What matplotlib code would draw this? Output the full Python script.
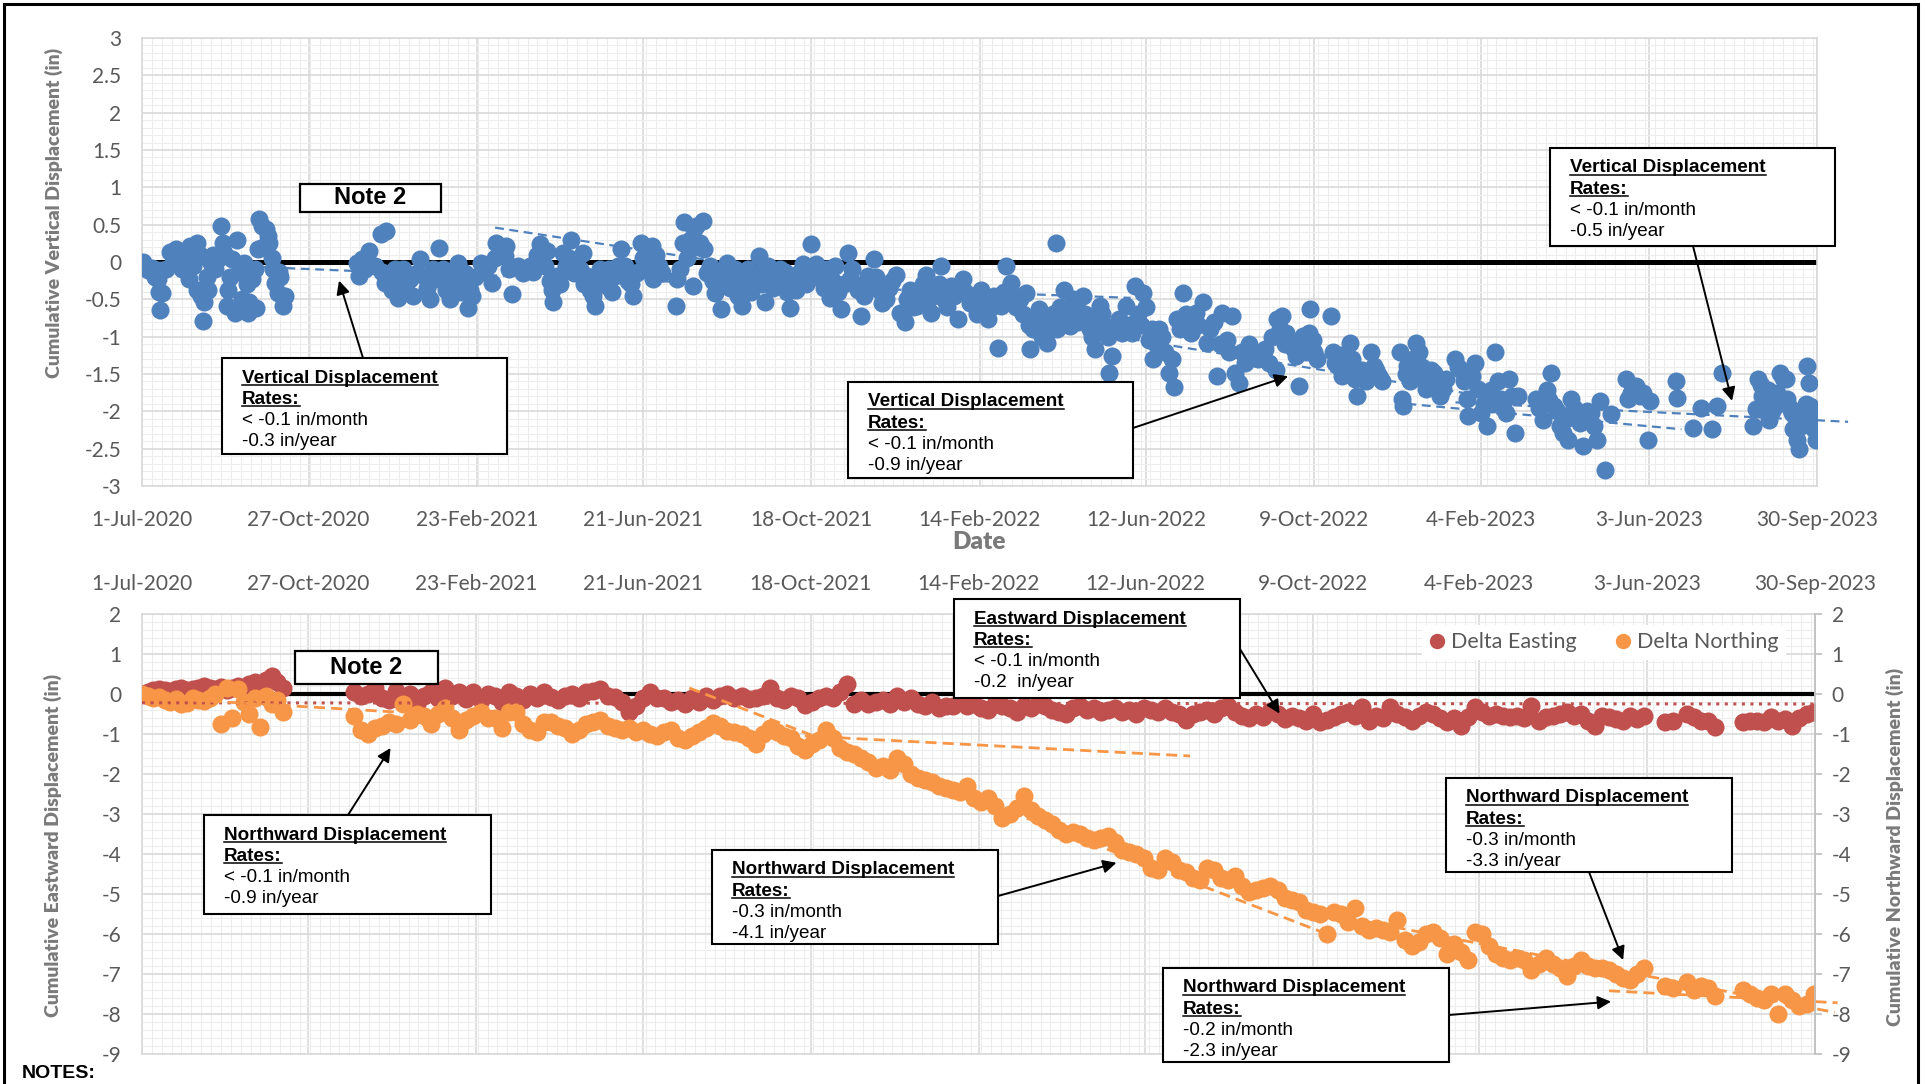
import matplotlib
matplotlib.use("Agg")
import matplotlib.pyplot as plt
from matplotlib.patches import Rectangle
from matplotlib.lines import Line2D
from matplotlib.ticker import FixedLocator, MultipleLocator, FuncFormatter

plt.rcParams['font.family'] = ['Lato', 'DejaVu Sans']
plt.rcParams['axes.unicode_minus'] = False

# ---------------- data (days since 1-Jul-2020) ----------------
tick_days = [0, 118, 237, 355, 474, 593, 711, 830, 948, 1067, 1186]
tick_labels = ['1-Jul-2020', '27-Oct-2020', '23-Feb-2021', '21-Jun-2021', '18-Oct-2021',
               '14-Feb-2022', '12-Jun-2022', '9-Oct-2022', '4-Feb-2023', '3-Jun-2023',
               '30-Sep-2023']

vert_days = [
    1, 4, 7, 9, 11, 12, 13, 14, 17, 20,
    22, 24, 26, 28, 30, 31, 33, 34, 36, 37,
    39, 39, 41, 42, 43, 44, 46, 47, 49, 50,
    52, 54, 56, 57, 58, 60, 61, 62, 64, 66,
    67, 69, 70, 71, 72, 74, 75, 76, 78, 80,
    81, 82, 83, 85, 86, 88, 89, 90, 92, 93,
    94, 96, 97, 98, 100, 101,
    152, 154, 156, 158, 161, 165, 169, 170, 172, 173,
    175, 177, 179, 181, 183, 185, 187, 190, 192, 195,
    197, 200, 202, 204, 206, 208, 210, 213, 215, 217,
    218, 220, 222, 224, 226, 227, 229, 231, 232, 234,
    236, 240, 242, 245, 248, 250, 251, 254, 257, 258,
    260, 262, 266, 270, 275, 277, 280, 282, 285, 287,
    289, 290, 291, 294, 296, 298, 300, 302, 304, 306,
    308, 310, 312, 313, 315, 317, 319, 321, 322, 324,
    326, 329, 331, 333, 335, 337, 339, 342, 344, 346,
    348, 351, 353, 355, 357, 359, 361, 362, 364, 366,
    368, 378, 379, 381, 383, 384, 386, 388, 390, 391,
    392, 394, 395, 397, 398, 400, 402, 404, 406, 408,
    410, 412, 414, 416, 418, 420, 422, 424, 425, 427,
    429, 431, 433, 435, 437, 439, 441, 443, 445, 447,
    450, 452, 455, 457, 459, 461, 463, 465, 468, 470,
    472, 474, 477, 479, 481, 483, 485, 487, 489, 491,
    493, 495, 497, 500, 501, 503, 505, 507, 509, 511,
    514, 516, 518, 520, 522, 524, 527, 529, 531, 534,
    537, 540, 542, 544, 546, 549, 551, 553, 555, 557,
    559, 562, 564, 566, 568, 570, 573, 575, 578, 581,
    583, 586, 589, 591, 594, 596, 599, 601, 603, 606,
    608, 610, 612, 615, 617, 619, 622, 624, 626, 628,
    629, 631, 633, 635, 637, 639, 641, 643, 645, 647,
    648, 650, 653, 655, 657, 659, 661, 663, 666, 668,
    671, 673, 675, 676, 678, 680, 682, 684, 685, 687,
    690, 692, 694, 697, 699, 701, 703, 705, 707, 709,
    711, 713, 715, 716, 718, 720, 722, 724, 727, 729,
    731, 733, 735, 737, 739, 741, 743, 746, 748, 751,
    754, 756, 759, 761, 763, 765, 768, 770, 772, 774,
    777, 779, 781, 784, 787, 790, 793, 795, 798, 800,
    803, 804, 806, 807, 809, 810, 812, 815, 817, 819,
    821, 822, 824, 826, 827, 829, 830, 832, 842, 843,
    845, 847, 849, 850, 853, 855, 857, 859, 860, 862,
    864, 867, 870, 872, 874, 876, 878, 891, 892, 893,
    895, 896, 898, 900, 902, 904, 906, 907, 909, 911,
    913, 915, 917, 919, 921, 923, 930, 932, 934, 936,
    938, 939, 942, 944, 946, 948, 950, 952, 955, 956,
    958, 960, 962, 964, 966, 968, 970, 972, 974, 987,
    989, 992, 995, 996, 998, 1000, 1002, 1004, 1006, 1008,
    1010, 1012, 1014, 1016, 1018, 1020, 1023, 1026, 1028, 1030,
    1032, 1036, 1040, 1051, 1052, 1054, 1058, 1061, 1063, 1066,
    1068, 1086, 1087, 1098, 1104, 1112, 1115, 1119, 1141, 1143,
    1144, 1146, 1147, 1149, 1151, 1152, 1154, 1156, 1158, 1160,
    1162, 1164, 1165, 1167, 1168, 1169, 1171, 1172, 1173, 1175,
    1176, 1178, 1179, 1180, 1181, 1183, 1184, 1185]
vert_vals = [
    0.0, -0.11, -0.08, -0.2, -0.23, -0.4, -0.64, -0.41, -0.1, 0.13,
    -0.01, 0.17, 0.05, -0.1, 0.04, 0.01, -0.23, 0.21, -0.05, 0.08,
    0.26, -0.37, 0.1, -0.46, -0.79, -0.54, -0.2, -0.37, -0.01, 0.1,
    -0.1, 0.04, 0.48, 0.26, 0.12, -0.59, -0.37, -0.2, 0.04, -0.68,
    0.3, -0.14, -0.6, -0.5, -0.01, -0.3, -0.68, -0.54, -0.23, -0.1,
    -0.62, 0.17, 0.57, 0.48, 0.2, 0.44, 0.35, 0.26, 0.05, -0.1,
    -0.28, -0.41, -0.14, -0.2, -0.59, -0.45,
    -0.01, -0.19, 0.04, -0.1, 0.15, -0.05, 0.37, -0.14, -0.28, 0.42,
    -0.2, -0.37, -0.1, -0.48, -0.25, -0.1, -0.3, -0.23, -0.46, -0.15,
    0.04, -0.19, -0.35, -0.5, -0.1, -0.23, 0.19, -0.1, -0.37, -0.2,
    -0.5, -0.3, -0.19, -0.01, -0.4, -0.28, -0.15, -0.61, -0.37, -0.45,
    -0.2, -0.01, -0.14, -0.05, -0.28, 0.05, 0.26, 0.12, 0.08, 0.21,
    -0.1, -0.43, -0.05, -0.15, -0.05, -0.14, 0.1, 0.24, -0.05, 0.15,
    -0.25, -0.37, -0.54, -0.19, -0.3, 0.12, -0.05, 0.05, 0.3, -0.15,
    0.04, -0.1, 0.12, -0.3, -0.19, -0.37, -0.45, -0.59, -0.2, -0.1,
    -0.25, -0.32, -0.1, -0.4, -0.19, -0.05, 0.17, -0.05, -0.25, -0.3,
    -0.46, -0.14, 0.26, 0.05, 0.04, -0.1, 0.21, -0.23, 0.1, -0.05,
    -0.15, -0.59, -0.23, -0.1, 0.26, 0.53, 0.05, 0.3, -0.32, 0.44,
    0.48, 0.2, 0.26, 0.55, 0.17, -0.15, -0.05, -0.25, -0.41, -0.3,
    -0.63, -0.1, -0.01, -0.35, -0.23, -0.1, -0.46, -0.3, -0.59, -0.2,
    -0.1, -0.4, -0.28, -0.15, 0.08, -0.3, -0.54, -0.05, -0.19, -0.35,
    -0.28, -0.1, -0.14, -0.4, -0.61, -0.25, -0.37, -0.15, -0.03, -0.3,
    -0.2, 0.24, -0.03, -0.15, -0.23, -0.35, -0.1, -0.48, -0.25, -0.05,
    -0.4, -0.63, -0.3, 0.12, -0.23, -0.1, -0.3, -0.37, -0.72, -0.45,
    -0.19, -0.3, 0.04, -0.2, -0.37, -0.55, -0.5, -0.35, -0.25, -0.17,
    -0.68, -0.81, -0.5, -0.37, -0.6, -0.59, -0.45, -0.3, -0.17, -0.5,
    -0.68, -0.4, -0.3, -0.05, -0.5, -0.6, -0.32, -0.45, -0.77, -0.23,
    -0.4, -0.55, -0.54, -0.7, -0.37, -0.55, -0.77, -0.6, -0.45, -1.15,
    -0.59, -0.4, -0.05, -0.28, -0.45, -0.6, -0.5, -0.7, -0.41, -0.85,
    -1.17, -0.9, -0.75, -0.63, -1.0, -0.77, -1.08, -0.9, -0.7, 0.26,
    -0.9, -0.6, -0.37, -0.75, -0.86, -0.5, -0.59, -0.8, -0.46, -0.7,
    -0.9, -1.0, -1.17, -0.8, -0.59, -0.7, -0.86, -1.0, -1.48, -1.26,
    -0.9, -0.77, -0.95, -0.59, -0.85, -0.95, -0.32, -0.7, -0.85, -0.41,
    -0.6, -1.04, -0.9, -1.3, -1.1, -0.9, -1.0, -1.2, -1.48, -1.3,
    -1.68, -0.77, -0.9, -0.41, -0.7, -0.81, -0.95, -0.68, -0.85, -0.54,
    -1.08, -0.9, -0.81, -1.53, -1.1, -0.68, -1.04, -1.2, -0.72, -1.48,
    -1.62, -1.21, -1.35, -1.1, -1.28, -1.3, -1.2, -1.17, -1.35, -1.0,
    -1.44, -0.77, -0.9, -0.72, -1.1, -0.95, -1.04, -1.15, -1.26, -1.66,
    -1.1, -0.99, -1.2, -0.95, -0.63, -1.05, -1.21, -1.3, -0.72, -1.21,
    -1.35, -1.39, -1.25, -1.53, -1.4, -1.08, -1.3, -1.57, -1.79, -1.45,
    -1.44, -1.6, -1.21, -1.39, -1.45, -1.53, -1.6, -1.21, -1.84, -1.93,
    -1.5, -1.39, -1.6, -1.3, -1.08, -1.21, -1.4, -1.53, -1.7, -1.66,
    -1.45, -1.48, -1.6, -1.79, -1.7, -1.57, -1.3, -1.4, -1.44, -1.6,
    -1.84, -2.06, -1.53, -1.35, -1.7, -2.02, -1.9, -2.2, -1.71, -1.9,
    -1.21, -1.6, -1.84, -1.95, -2.02, -1.57, -1.8, -2.29, -1.79, -1.84,
    -1.95, -2.11, -1.71, -1.85, -1.48, -1.93, -2.0, -2.2, -2.29, -2.1,
    -2.38, -1.84, -1.95, -2.02, -2.15, -2.46, -2.0, -2.02, -2.2, -2.38,
    -1.86, -2.78, -2.04, -1.57, -1.84, -1.75, -1.66, -1.8, -1.75, -2.38,
    -1.86, -1.59, -1.82, -2.22, -1.95, -2.24, -1.93, -1.48, -2.2, -1.97,
    -1.57, -1.65, -1.79, -1.9, -1.71, -2.11, -2.0, -1.93, -1.75, -1.48,
    -1.55, -1.57, -1.84, -1.95, -2.02, -2.24, -2.1, -2.38, -2.51, -2.2,
    -2.11, -1.9, -1.39, -1.62, -1.93, -2.05, -2.24, -2.38]

en_days = [
    0, 4, 8, 12, 16, 20, 24, 28, 32, 36, 40, 44, 48, 52, 56, 60, 64, 68, 72, 76,
    80, 84, 88, 92, 96, 100,
    150, 155, 160, 165, 170, 175, 180, 185, 190, 195,
    200, 205, 210, 215, 220, 225, 230, 235, 240, 245,
    250, 255, 260, 265, 270, 275, 280, 285, 290, 295,
    300, 305, 310, 315, 320, 325, 330, 335, 340, 345,
    350, 355, 360, 365, 370, 375, 380, 385, 390, 395,
    400, 405, 410, 415, 420, 425, 430, 435, 440, 445,
    450, 455, 460, 465, 470, 475, 480, 485, 490, 495,
    500, 505, 510, 515, 520, 525, 530, 535, 540, 545,
    550, 555, 560, 565, 570, 575, 580, 585, 590, 595,
    600, 605, 610, 615, 620, 625, 630, 635, 640, 645,
    650, 655, 660, 665, 670, 675, 680, 685, 690, 695,
    700, 705, 710, 715, 720, 725, 730, 735, 740, 745,
    750, 755, 760, 765, 770, 775, 780, 785, 790, 795,
    800, 805, 810, 815, 820, 825, 830, 835, 840, 845,
    850, 855, 860, 865, 870, 875, 880, 885, 890, 895,
    900, 905, 910, 915, 920, 925, 930, 935, 940, 945,
    950, 955, 960, 965, 970, 975, 980, 985, 990, 995,
    1000, 1005, 1010, 1015, 1020, 1025, 1030, 1035, 1040, 1045,
    1050, 1055, 1060, 1065,
    1080, 1085, 1095, 1100, 1105, 1110, 1115,
    1135, 1140, 1145, 1150, 1155, 1160, 1165, 1170, 1175, 1180, 1185]
east_vals = [
    0.0, 0.05, 0.1, 0.12, 0.1, 0.08, 0.12, 0.15, 0.1, 0.12, 0.15, 0.2, 0.15, 0.12,
    0.18, 0.1, 0.15, 0.2, 0.12, 0.25, 0.3, 0.2, 0.35, 0.45, 0.3, 0.15,
    0.05, -0.05, 0.0, 0.15, -0.1, -0.15, 0.08, -0.2, 0.0, -0.25,
    -0.05, 0.05, -0.1, 0.15, -0.05, 0.05, -0.12, 0.05, -0.15, 0.0,
    -0.05, -0.2, 0.05, -0.05, -0.15, 0.0, -0.1, 0.05, -0.08, -0.15,
    -0.05, 0.0, -0.1, 0.05, 0.08, 0.12, -0.05, -0.08, -0.2, -0.45,
    -0.3, -0.1, 0.05, -0.1, -0.1, -0.2, -0.15, -0.25, -0.1, -0.2,
    -0.05, -0.15, -0.05, 0.0, -0.1, -0.05, -0.12, -0.1, -0.05, 0.15,
    -0.1, -0.15, -0.05, -0.1, -0.28, -0.2, -0.1, -0.05, -0.1, 0.05,
    0.25, -0.25, -0.15, -0.25, -0.2, -0.15, -0.25, -0.05, -0.2, -0.1,
    -0.25, -0.3, -0.2, -0.35, -0.3, -0.3, -0.2, -0.3, -0.25, -0.35,
    -0.4, -0.25, -0.3, -0.35, -0.45, -0.3, -0.35, -0.25, -0.3, -0.4,
    -0.45, -0.5, -0.35, -0.3, -0.4, -0.35, -0.45, -0.4, -0.35, -0.45,
    -0.4, -0.5, -0.35, -0.4, -0.45, -0.35, -0.45, -0.5, -0.65, -0.5,
    -0.45, -0.4, -0.5, -0.35, -0.3, -0.45, -0.55, -0.6, -0.5, -0.58,
    -0.42, -0.5, -0.62, -0.54, -0.6, -0.67, -0.5, -0.7, -0.65, -0.58,
    -0.5, -0.46, -0.54, -0.33, -0.67, -0.54, -0.6, -0.33, -0.5, -0.58,
    -0.67, -0.54, -0.46, -0.5, -0.6, -0.71, -0.6, -0.79, -0.58, -0.33,
    -0.46, -0.54, -0.5, -0.55, -0.58, -0.54, -0.6, -0.3, -0.67, -0.58,
    -0.55, -0.5, -0.46, -0.54, -0.5, -0.67, -0.79, -0.54, -0.58, -0.62,
    -0.67, -0.54, -0.62, -0.54,
    -0.71, -0.68, -0.5, -0.58, -0.67, -0.67, -0.83,
    -0.71, -0.67, -0.67, -0.71, -0.58, -0.67, -0.62, -0.79, -0.6, -0.5, -0.46]
north_vals = [
    0.0, -0.05, -0.1, -0.08, -0.15, -0.2, -0.12, -0.25, -0.22, -0.1, -0.15, -0.18,
    -0.1, 0.0, -0.75, 0.15, -0.6, 0.12, -0.2, -0.5, -0.1, -0.82, -0.05, -0.25, -0.15, -0.45,
    -0.55, -0.9, -1.0, -0.85, -0.8, -0.7, -0.75, -0.25, -0.65, -0.5,
    -0.55, -0.75, -0.5, -0.35, -0.6, -0.9, -0.65, -0.55, -0.45, -0.6,
    -0.6, -0.85, -0.45, -0.45, -0.75, -0.9, -0.95, -0.7, -0.7, -0.8,
    -0.85, -1.0, -0.9, -0.75, -0.7, -0.65, -0.8, -0.85, -0.9, -0.85,
    -0.95, -0.9, -1.0, -1.05, -0.95, -0.9, -1.1, -1.15, -1.05, -0.95,
    -0.85, -0.72, -0.8, -0.92, -0.95, -1.0, -1.1, -1.25, -1.0, -0.85,
    -0.95, -1.05, -1.1, -1.3, -1.4, -1.25, -1.15, -0.9, -1.1, -1.35,
    -1.45, -1.5, -1.6, -1.7, -1.85, -1.8, -1.9, -1.6, -1.75, -2.0,
    -2.1, -2.15, -2.2, -2.3, -2.35, -2.4, -2.45, -2.3, -2.6, -2.7,
    -2.6, -2.8, -3.1, -3.0, -2.85, -2.55, -2.9, -3.05, -3.15, -3.25,
    -3.4, -3.5, -3.45, -3.5, -3.6, -3.65, -3.6, -3.55, -3.7, -3.9,
    -3.95, -4.0, -4.1, -4.35, -4.4, -4.1, -4.2, -4.4, -4.45, -4.6,
    -4.65, -4.35, -4.4, -4.6, -4.65, -4.55, -4.8, -4.95, -4.9, -4.85,
    -4.8, -4.9, -5.1, -5.15, -5.2, -5.4, -5.45, -5.5, -6.0, -5.45,
    -5.5, -5.7, -5.35, -5.8, -5.9, -5.85, -5.9, -5.95, -5.65, -6.15,
    -6.3, -6.2, -6.0, -5.95, -6.1, -6.5, -6.25, -6.45, -6.65, -5.95,
    -6.0, -6.3, -6.5, -6.6, -6.65, -6.6, -6.65, -6.9, -6.75, -6.6,
    -6.75, -6.85, -7.05, -6.8, -6.65, -6.8, -6.85, -6.85, -6.9, -7.0,
    -7.1, -7.15, -7.0, -6.85,
    -7.3, -7.35, -7.2, -7.4, -7.3, -7.35, -7.55,
    -7.4, -7.5, -7.6, -7.65, -7.5, -8.0, -7.5, -7.65, -7.8, -7.75, -7.5]

# trend lines: start day, start value, end day, end value
vert_trend_d0 = [0, 250, 235, 690, 896, 930]
vert_trend_v0 = [0.0, 0.46, -0.17, -1.0, -1.9, -1.88]
vert_trend_d1 = [150, 410, 700, 935, 1090, 1208]
vert_trend_v1 = [-0.12, 0.0, -0.48, -1.75, -2.24, -2.14]

north_trend_d0 = [0, 388, 470, 840, 1040]
north_trend_v0 = [-0.08, 0.15, -1.05, -5.5, -7.42]
north_trend_d1 = [180, 840, 743, 1200, 1202]
north_trend_v1 = [-0.45, -6.0, -1.55, -7.96, -7.72]

east_trend_d = [0, 1186]
east_trend_v = [-0.22, -0.25]

# ---------------- figure ----------------
W, H = 1925, 1084
BLUE, RED, ORANGE = '#4F81BD', '#C0504D', '#F79646'
TICK, TITLE = '#595959', '#7a7a7a'
MS = 13

fig = plt.figure(figsize=(W / 100, H / 100), dpi=100)


def fx(px):
    return px / W


def fy(py):
    return 1 - py / H


def setup(ax, ylo, yhi, ymaj, ymin):
    ax.set_xlim(0, 1186)
    ax.set_ylim(ylo, yhi)
    ax.xaxis.set_major_locator(FixedLocator(tick_days))
    ax.set_xticklabels(tick_labels)
    ax.xaxis.set_minor_locator(MultipleLocator(7))
    ax.yaxis.set_major_locator(MultipleLocator(ymaj))
    ax.yaxis.set_minor_locator(MultipleLocator(ymin))
    ax.yaxis.set_major_formatter(FuncFormatter(lambda v, p: '%g' % (round(v, 3) + 0.0)))
    ax.grid(which='major', color='#d9d9d9', lw=1.2)
    ax.grid(which='minor', color='#ededed', lw=0.8)
    ax.set_axisbelow(True)
    for s in ax.spines.values():
        s.set_color('#d9d9d9')
        s.set_linewidth(1.2)
    ax.tick_params(which='both', length=0, labelsize=15, labelcolor=TICK)


# top chart: vertical displacement
ax1 = fig.add_axes([fx(142), fy(486), fx(1817) - fx(142), fy(38) - fy(486)])
setup(ax1, -3, 3, 0.5, 0.1)
ax1.tick_params(axis='x', pad=17)
ax1.tick_params(axis='y', pad=15)
ax1.axhline(0, color='black', lw=3.6, zorder=2)
ax1.plot(vert_days, vert_vals, 'o', color=BLUE, ms=MS, mew=0, zorder=3)
for d0, v0, d1, v1 in zip(vert_trend_d0, vert_trend_v0, vert_trend_d1, vert_trend_v1):
    ax1.plot([d0, d1], [v0, v1], color=BLUE, lw=1.6, ls=(0, (4, 2.5)), zorder=4, clip_on=False)

# bottom chart: easting / northing
ax2 = fig.add_axes([fx(142), fy(1054), fx(1815) - fx(142), fy(614) - fy(1054)])
setup(ax2, -9, 2, 1, 0.2)
ax2.xaxis.set_ticks_position('top')
ax2.tick_params(axis='x', labeltop=True, labelbottom=False, pad=14.5)
ax2.tick_params(axis='y', pad=15)
ax2.axhline(0, color='black', lw=3.0, zorder=2)
ax2.plot(en_days, east_vals, 'o', color=RED, ms=MS, mew=0, zorder=3, label='Delta Easting')
ax2.plot(en_days, north_vals, 'o', color=ORANGE, ms=MS, mew=0, zorder=3, label='Delta Northing')
ax2.plot(east_trend_d, east_trend_v, color=RED, lw=2.2, ls=(0, (1, 1.8)), zorder=4)
for d0, v0, d1, v1 in zip(north_trend_d0, north_trend_v0, north_trend_d1, north_trend_v1):
    ax2.plot([d0, d1], [v0, v1], color=ORANGE, lw=2.0, ls=(0, (4, 2.2)), zorder=4, clip_on=False)

leg = ax2.legend(loc='upper right', bbox_to_anchor=(0.989, 1.0), ncol=2, frameon=True,
                 fancybox=False, edgecolor='none', facecolor='white', framealpha=1,
                 handlelength=0.7, handletextpad=0.3, columnspacing=1.8, markerscale=0.85,
                 prop={'family': 'Lato', 'size': 15.5}, labelcolor=TICK, borderpad=0.35)
leg.set_zorder(5)

axr = ax2.twinx()
axr.set_ylim(-9, 2)
axr.yaxis.set_major_locator(MultipleLocator(1))
axr.yaxis.set_major_formatter(FuncFormatter(lambda v, p: '%g' % (round(v, 3) + 0.0)))
axr.tick_params(axis='y', length=5, width=1.2, color='#bfbfbf', labelsize=15,
                labelcolor=TICK, pad=7)
for s in ['top', 'left', 'bottom']:
    axr.spines[s].set_visible(False)
axr.spines['right'].set_color('#bfbfbf')
axr.spines['right'].set_linewidth(1.2)

# axis titles
fig.text(fx(54), fy(213), 'Cumulative Vertical Displacement (in)', rotation=90,
         ha='center', va='center', fontsize=14, fontweight='heavy', color=TITLE)
fig.text(fx(979), fy(542), 'Date', ha='center', va='center', fontsize=17.5,
         fontweight='heavy', color=TITLE)
fig.text(fx(53), fy(845), 'Cumulative Eastward Displacement (in)', rotation=90,
         ha='center', va='center', fontsize=14, fontweight='heavy', color=TITLE)
fig.text(fx(1895), fy(847), 'Cumulative Northward Displacement (in)', rotation=90,
         ha='center', va='center', fontsize=14, fontweight='heavy', color=TITLE)

# ---------------- callouts ----------------
BOX_FONT = ['Liberation Sans', 'DejaVu Sans']
underlined = []


def callout(x0, y0, x1, y1, title, body):
    fig.add_artist(Rectangle((fx(x0), fy(y1)), fx(x1) - fx(x0), fy(y0) - fy(y1),
                             transform=fig.transFigure, facecolor='white',
                             edgecolor='black', lw=1.5, zorder=5))
    lines = [title, 'Rates:'] + body
    for i, s in enumerate(lines):
        base = y0 + 24.5 + 21.3 * i
        t = fig.text(fx(x0 + 20), fy(base), s, ha='left', va='baseline', fontsize=13.6,
                     family=BOX_FONT, fontweight='bold' if i < 2 else 'normal',
                     color='black', zorder=6)
        if i < 2:
            underlined.append((t, base))


def note_box(x0, y0, x1, y1):
    fig.add_artist(Rectangle((fx(x0), fy(y1)), fx(x1) - fx(x0), fy(y0) - fy(y1),
                             transform=fig.transFigure, facecolor='white',
                             edgecolor='black', lw=1.6, zorder=5))
    fig.text(fx((x0 + x1) / 2), fy((y0 + y1) / 2), 'Note 2', ha='center', va='center',
             fontsize=17, fontweight='bold', family=BOX_FONT, color='black', zorder=6)


def arrow(ax, start_px, tip):
    ax.annotate('', xy=tip, xycoords='data', xytext=(start_px[0], H - start_px[1]),
                textcoords='figure pixels', annotation_clip=False, zorder=6,
                arrowprops=dict(arrowstyle='-|>', color='black', lw=1.4,
                                mutation_scale=20, shrinkA=0, shrinkB=0))


note_box(300, 184, 441, 212)
note_box(295, 651, 438, 684)

callout(222, 358, 507, 454, 'Vertical Displacement', ['< -0.1 in/month', '-0.3 in/year'])
arrow(ax1, (363, 358), (139.5, -0.25))
callout(848, 382, 1133, 478, 'Vertical Displacement', ['< -0.1 in/month', '-0.9 in/year'])
arrow(ax1, (1133, 428), (811.5, -1.53))
callout(1550, 148, 1835, 246, 'Vertical Displacement', ['< -0.1 in/month', '-0.5 in/year'])
arrow(ax1, (1693, 246), (1125.8, -1.86))

callout(204, 815, 491, 914, 'Northward Displacement', ['< -0.1 in/month', '-0.9 in/year'])
arrow(ax2, (348, 815), (176.2, -1.35))
callout(954, 599, 1240, 698, 'Eastward Displacement', ['< -0.1 in/month', '-0.2  in/year'])
arrow(ax2, (1240, 649), (806.4, -0.49))
callout(712, 850, 998, 944, 'Northward Displacement', ['-0.3 in/month', '-4.1 in/year'])
arrow(ax2, (998, 896), (690.8, -4.22))
callout(1446, 778, 1732, 872, 'Northward Displacement', ['-0.3 in/month', '-3.3 in/year'])
arrow(ax2, (1589, 872), (1050, -6.65))
callout(1163, 968, 1449, 1062, 'Northward Displacement', ['-0.2 in/month', '-2.3 in/year'])
arrow(ax2, (1449, 1015), (1041.4, -7.69))

fig.text(fx(22), fy(1074), 'NOTES:', ha='left', va='center', fontsize=14,
         fontweight='bold', family=BOX_FONT, color='black')

# outer frame of the sheet
fig.add_artist(Rectangle((fx(4), -0.05), fx(1918) - fx(4), fy(4) + 0.05,
                         transform=fig.transFigure, fill=False, edgecolor='black',
                         lw=2.2, zorder=8))

# underline the bold callout titles
renderer = fig.canvas.get_renderer()
for t, base in underlined:
    bb = t.get_window_extent(renderer)
    fig.add_artist(Line2D([bb.x0 / W, bb.x1 / W], [fy(base + 2.5)] * 2,
                          transform=fig.transFigure, color='black', lw=1.1, zorder=7))

fig.savefig('out.png', dpi=100)
